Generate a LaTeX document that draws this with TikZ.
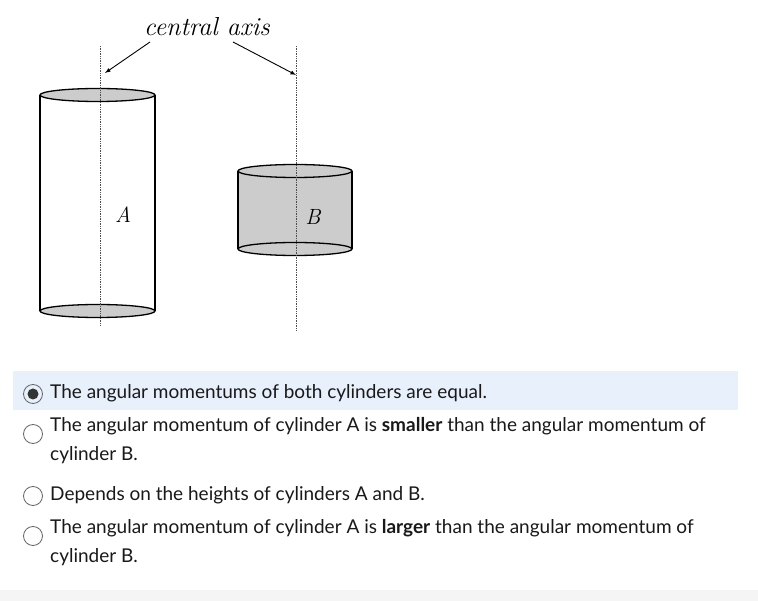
\documentclass[tikz,border=0pt]{standalone}
\usepackage{fontspec}
\setmainfont{Lato}
\newfontfamily\serifit{Latin Modern Roman}
\definecolor{hl}{RGB}{232,240,252}
\begin{document}
\begin{tikzpicture}[x=1pt,y=-1pt,
  lid/.style={draw=black,fill=black!20,line width=1.3pt},
  side/.style={draw=black,line width=1.3pt},
  axis/.style={densely dotted,line width=0.7pt,black!70},
  radio/.style={circle,draw=black!60,line width=0.8pt,minimum size=19pt,inner sep=0pt},
  opt/.style={anchor=west,font=\fontsize{19}{29}\selectfont,text=black!90,align=left,inner sep=0pt},
  lab/.style={font=\serifit\itshape\fontsize{22}{22}\selectfont}]
\fill[white] (0,0) rectangle (758,601);
\fill[black!4] (0,590) rectangle (758,601);
% cylinder A
\draw[side] (40,95) -- (40,311) (155,95) -- (155,311);
\draw[lid] (97.5,95) ellipse (57.5 and 6.5);
\draw[lid] (97.5,311) ellipse (57.5 and 6.5);
\draw[axis] (100,46) -- (100,326);
\node[lab] (A) at (123,215) {A};
% cylinder B
\fill[black!20] (238,171) rectangle (352,249);
\draw[side] (238,171) -- (238,249) (352,171) -- (352,249);
\draw[lid] (295,171) ellipse (57 and 6.5);
\draw[lid] (295,249) ellipse (57 and 6.5);
\draw[axis] (296,46) -- (296,330);
\node[lab] (B) at (313,217) {B};
% label
\node[lab,font=\serifit\itshape\fontsize{26}{26}\selectfont] (ca) at (207,27) {central axis};
\coordinate (ta) at (105,73);
\coordinate (tb) at (296,75);
\draw[-latex,line width=0.9pt] (150,42) -- (ta);
\draw[-latex,line width=0.9pt] (233,42) -- (tb);
% options
\fill[hl] (13,371) rectangle (738,410);
\node[radio] (r1) at (33,394) {};
\fill[black!80] (r1) circle (5.5);
\node[radio] (r2) at (33,434) {};
\node[radio] (r3) at (33,496) {};
\node[radio] (r4) at (33,536) {};
\node[opt] (t1) at (50,393) {The angular momentums of both cylinders are equal.};
\node[opt,anchor=north west] (t2) at (50,417) {The angular momentum of cylinder A is \textbf{smaller} than the angular momentum of\\cylinder B.};
\node[opt] (t3) at (50,495) {Depends on the heights of cylinders A and B.};
\node[opt,anchor=north west] (t4) at (50,519) {The angular momentum of cylinder A is \textbf{larger} than the angular momentum of\\cylinder B.};
\end{tikzpicture}
\end{document}
